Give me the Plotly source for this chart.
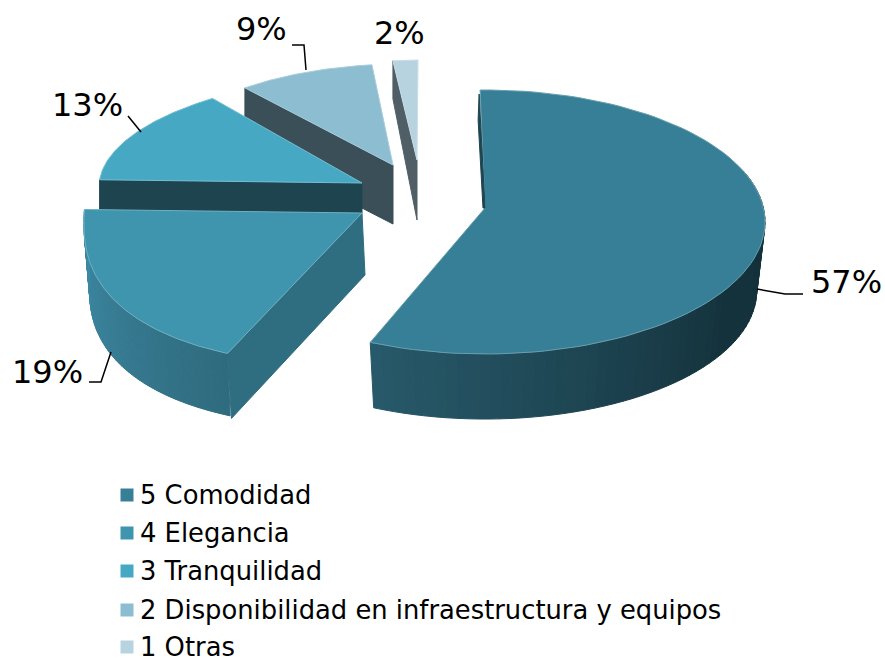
import math
import plotly.graph_objects as go

categories = ["5 Comodidad", "4 Elegancia", "3 Tranquilidad",
              "2 Disponibilidad en infraestructura y equipos", "1 Otras"]
values = [57, 19, 13, 9, 2]
top_colors = ["#367f96", "#3f95ae", "#47a8c4", "#8cbdd0", "#b7d3e0"]
label_xy = [(846, 282), (47, 372), (87, 105), (261, 29), (399, 33)]
legend_rows = [495, 533, 571, 610, 647]

# Exploded-slice projection: ellipse centre/radii, apex, wall depth, arc squareness
geom = [
    dict(cx=485, cy=222, rx=280, ry=132, ax=485, ay=208, d_arc=69, d_apex=0, e=1.0, bshrink=0.97, rot=-1),
    dict(cx=362, cy=223, rx=278, ry=142, ax=362, ay=213, d_arc=65, d_apex=62, e=0.85, bshrink=0.98, rot=0),
    dict(cx=412, cy=187, rx=313, ry=115, ax=362, ay=183, d_arc=30, d_apex=30, e=1.0, bshrink=1, rot=0),
    dict(cx=403, cy=168, rx=248, ry=104, ax=393, ay=165, d_arc=60, d_apex=59, e=1.0, bshrink=1, rot=0),
    dict(cx=418, cy=165, rx=200, ry=105, ax=417, ay=160, d_arc=38, d_apex=60, e=1.0, bshrink=1, rot=0),
]
wall_ramps = [("#14323c", "#285a6b"), ("#3d8aa5", "#2f6b7e"), None, None, None]
face_colors = [None, "#2f6d81", "#1e4450", "#3a4f58", "#4f5f65"]

def arc_pt(g, deg, drop=0.0, shrink=1.0):
    a = math.radians(deg + g["rot"])
    s, c = math.sin(a), math.cos(a)
    sx = math.copysign(abs(s) ** g["e"], s)
    sy = math.copysign(abs(c) ** g["e"], c)
    return g["cx"] + g["rx"] * shrink * sx, g["cy"] - g["ry"] * shrink * sy + drop

def mix(c1, c2, t):
    p = [int(c1[i:i + 2], 16) for i in (1, 3, 5)]
    q = [int(c2[i:i + 2], 16) for i in (1, 3, 5)]
    return "rgb(%d,%d,%d)" % tuple(round(u + (v - u) * t) for u, v in zip(p, q))

fig = go.Figure()

def poly(pts, color, line=None):
    xs = [p[0] for p in pts] + [pts[0][0]]
    ys = [p[1] for p in pts] + [pts[0][1]]
    fig.add_trace(go.Scatter(x=xs, y=ys, mode="lines", fill="toself", fillcolor=color,
                             line=dict(color=line or color, width=1),
                             hoverinfo="skip", showlegend=False))

total = sum(values)
spans, acc = [], 0.0
for v in values:
    spans.append((acc, acc + 360.0 * v / total))
    acc += 360.0 * v / total

def draw(i):
    g = geom[i]
    a0, a1 = spans[i]
    n = 90
    arc = [a0 + (a1 - a0) * k / n for k in range(n + 1)]
    # flat cut face
    if face_colors[i]:
        ex, ey = arc_pt(g, a0)
        shift = 4 if i == 1 else 1
        poly([(ex, ey), (g["ax"], g["ay"]), (g["ax"] + shift - 1, g["ay"] + g["d_apex"]),
              (ex + (shift if i == 1 else 0), ey + g["d_arc"])], face_colors[i])
    # curved outer wall, shaded segment by segment
    if wall_ramps[i]:
        lo, hi = wall_ramps[i]
        for k in range(n):
            p, q = arc[k], arc[k + 1]
            if not (68 <= p % 360 <= 292):
                continue
            t = max(0.0, min(1.0, (p - 120) / 85)) if i == 0 else (p - a0) / (a1 - a0)
            if i == 1:
                t = 1 - t
            col = mix(lo, hi, t)
            poly([arc_pt(g, p), arc_pt(g, q),
                  arc_pt(g, q, g["d_arc"], g["bshrink"]), arc_pt(g, p, g["d_arc"], g["bshrink"])], col)
    # top face
    pts = [(g["ax"], g["ay"])] + [arc_pt(g, a) for a in arc]
    poly(pts, top_colors[i], line=mix(top_colors[i], "#ffffff", 0.25))

for i in (4, 3, 2, 1, 0):
    draw(i)

# inner sliver of the large slice at the top
g0 = geom[0]
sx, sy = arc_pt(g0, 0)
poly([(sx - 1, sy + 4), (sx - 2, sy + 30), (g0["ax"] - 2, g0["ay"]), (g0["ax"], g0["ay"])], "#1e4450")

# legend squares
fig.add_trace(go.Scatter(x=[127] * 5, y=legend_rows, mode="markers", hoverinfo="skip", showlegend=False,
                         marker=dict(symbol="square", size=13, color=top_colors)))

annotations = []
for name, y in zip(categories, legend_rows):
    annotations.append(dict(x=138, y=y, text=name, xref="x", yref="y", showarrow=False,
                            xanchor="left", yanchor="middle", font=dict(size=25.8, color="#000")))
for v, (x, y) in zip(values, label_xy):
    annotations.append(dict(x=x, y=y, text=f"{v}%", xref="x", yref="y", showarrow=False,
                            xanchor="center", yanchor="middle", font=dict(size=32, color="#000")))

leaders = [
    [(757, 289), (785, 294), (803, 294)],
    [(111, 352), (101, 382), (89, 382)],
    [(128, 116), (141, 132)],
    [(292, 45), (304, 45), (306, 70)],
]
for pts in leaders:
    fig.add_trace(go.Scatter(x=[p[0] for p in pts], y=[p[1] for p in pts], mode="lines",
                             line=dict(color="#000", width=1.5), hoverinfo="skip", showlegend=False))

fig.update_layout(width=885, height=658, margin=dict(l=0, r=0, t=0, b=0),
                  paper_bgcolor="#fff", plot_bgcolor="#fff", showlegend=False,
                  font=dict(family="DejaVu Sans"), annotations=annotations,
                  xaxis=dict(range=[0, 885], visible=False, fixedrange=True),
                  yaxis=dict(range=[658, 0], visible=False, fixedrange=True))
fig.write_html("out.html", post_script="document.body.style.margin='0';", config={"displayModeBar": False})
